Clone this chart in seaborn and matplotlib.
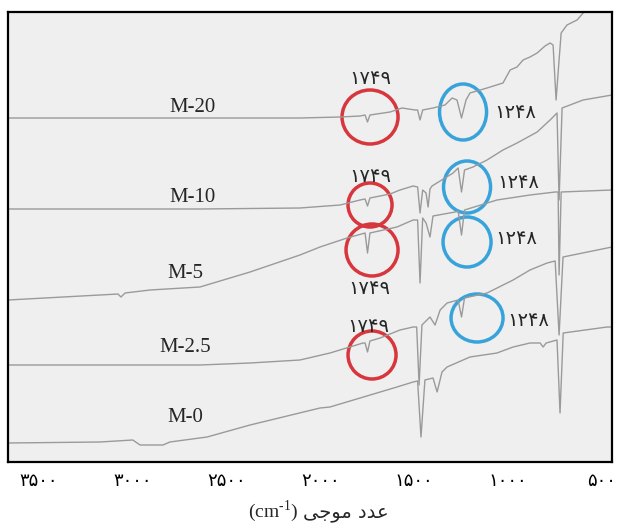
import numpy as np
import pandas as pd
import seaborn as sns
import matplotlib.pyplot as plt
from matplotlib.patches import Ellipse

sns.set_style("white")
plt.rcParams['font.family'] = ['DejaVu Sans']
plt.rcParams['mathtext.fontset'] = 'custom'
plt.rcParams['mathtext.rm'] = 'Liberation Serif'

# FTIR spectra (wavenumber in cm-1, signal in arbitrary units)
samples = ['M-20', 'M-10', 'M-5', 'M-2.5', 'M-0']

wn_m20 = [3665, 2109, 1895, 1789, 1762, 1749, 1736, 1629, 1565, 1496, 1482, 1469, 1455,
          1400, 1336, 1298, 1272, 1248, 1224, 1203, 1112, 1027, 989, 952, 920, 883, 845,
          803, 776, 760, 744, 728, 717, 686, 632, 600, 563, 510]
sig_m20 = [343, 343, 344, 345, 346, 339, 346, 349, 353, 351, 351, 341, 351,
           353, 356, 363, 361, 343, 361, 368, 373, 378, 391, 394, 401, 404, 408,
           415, 418, 416, 361, 401, 428, 436, 441, 448, 456, 466]

wn_m10 = [3665, 2642, 2109, 1895, 1789, 1762, 1749, 1736, 1629, 1576, 1506, 1482, 1469,
          1455, 1437, 1426, 1416, 1405, 1293, 1266, 1248, 1232, 1187, 1112, 1027, 952,
          845, 776, 739, 728, 712, 600, 446]
sig_m10 = [252, 252, 253, 256, 261, 262, 255, 263, 267, 271, 275, 274, 248,
           271, 268, 254, 272, 275, 288, 293, 269, 291, 294, 301, 311, 318,
           329, 341, 348, 261, 353, 361, 366]

wn_m5 = [3665, 3175, 3079, 3063, 3041, 2908, 2642, 2375, 2109, 2002, 1858, 1762, 1749,
         1736, 1592, 1506, 1482, 1469, 1455, 1437, 1416, 1400, 1282, 1266, 1248, 1232,
         1059, 883, 749, 733, 728, 717, 446]
sig_m5 = [161, 166, 167, 164, 168, 171, 174, 189, 206, 214, 223, 228, 208,
          228, 234, 241, 241, 178, 243, 238, 224, 245, 249, 250, 226, 251,
          261, 266, 269, 269, 186, 269, 271]

wn_m25 = [3665, 2642, 2375, 2109, 1949, 1773, 1762, 1749, 1736, 1682, 1576, 1506, 1487,
          1474, 1459, 1416, 1389, 1362, 1325, 1266, 1248, 1232, 1112, 973, 883, 792,
          749, 728, 707, 472, 446]
sig_m25 = [96, 96, 98, 101, 108, 118, 118, 109, 120, 123, 131, 134, 134,
           76, 136, 144, 136, 151, 158, 161, 144, 163, 168, 181, 191, 198,
           200, 126, 204, 213, 214]

wn_m0 = [3665, 3175, 3000, 2961, 2839, 2802, 2604, 2375, 2002, 1949, 1592, 1506, 1482,
         1464, 1443, 1400, 1378, 1352, 1325, 1203, 1059, 973, 883, 829, 813, 797,
         739, 723, 706, 472, 446]
sig_m0 = [18, 19, 21, 16, 16, 19, 24, 36, 53, 54, 74, 79, 80,
          24, 81, 83, 69, 89, 94, 104, 108, 114, 118, 118, 114, 118,
          121, 48, 128, 134, 134]

peak_red = '۱۷۴۹'
peak_blue = '۱۲۴۸'
tick_values = [3500, 3000, 2500, 2000, 1500, 1000, 500]
tick_labels = ['۳۵۰۰', '۳۰۰۰', '۲۵۰۰', '۲۰۰۰', '۱۵۰۰', '۱۰۰۰', '۵۰۰']

spectra = {
    'M-20': (wn_m20, sig_m20),
    'M-10': (wn_m10, sig_m10),
    'M-5': (wn_m5, sig_m5),
    'M-2.5': (wn_m25, sig_m25),
    'M-0': (wn_m0, sig_m0),
}
df = pd.concat([pd.DataFrame({'sample': s, 'wavenumber': w, 'signal': v})
                for s, (w, v) in spectra.items()], ignore_index=True)


# layout helper: picture pixel -> data coords (for labels and rings only)
def at(px, py):
    return 1000 + (508 - px) * 5.33, 461 - py


fig = plt.figure(figsize=(6.24, 5.25), dpi=100)
ax = fig.add_axes([8 / 624, 63 / 525, 604 / 624, 450 / 525])
ax.set_facecolor('#efefef')

sns.lineplot(data=df, x='wavenumber', y='signal', units='sample', estimator=None,
             sort=False, color='#9a9a9a', lw=1.0, ax=ax, legend=False)

ax.set_xlim(3665, 446)
ax.set_ylim(-1, 449)
ax.set_xticks(tick_values)
ax.set_xticklabels(tick_labels, fontsize=13)
ax.tick_params(axis='x', direction='in', length=5, width=1, pad=7, colors='black')
ax.xaxis.get_major_ticks()[-1].tick1line.set_visible(False)
ax.set_yticks([])
ax.set_xlabel('')
ax.set_ylabel('')
for sp in ax.spines.values():
    sp.set_color('black')
    sp.set_linewidth(1.6)

# sample names
name_pos = [(192, 108), (192, 197), (185, 273), (185, 348), (185, 417)]
for name, (px, py) in zip(samples, name_pos):
    x, y = at(px, py)
    ax.text(x, y, name, ha='center', va='center', fontsize=15, family='Liberation Serif')

# rings around the 1749 and 1248 bands
red_rings = [((370, 117), 28, 27), ((370, 205), 22, 22), ((372, 250), 26, 26), ((372, 355), 24, 24)]
blue_rings = [((463, 112), 23.5, 28), ((467, 187), 23.5, 26), ((467, 242), 24, 25), ((477, 318), 26, 24)]
for rings, col in [(red_rings, '#d7363d'), (blue_rings, '#38a3db')]:
    for (px, py), rx, ry in rings:
        x, y = at(px, py)
        ax.add_patch(Ellipse((x, y), 2 * rx * 5.33, 2 * ry, fill=False, edgecolor=col, lw=2.5))

red_lab = [(370, 78), (370, 177), (369, 288), (368, 327)]
blue_lab = [(515, 112), (518, 183), (516, 238), (528, 320)]
for px, py in red_lab:
    x, y = at(px, py)
    ax.text(x, y, peak_red, ha='center', va='center', fontsize=14)
for px, py in blue_lab:
    x, y = at(px, py)
    ax.text(x, y, peak_blue, ha='center', va='center', fontsize=14)

# axis title: "(cm-1)" + Persian words in presentation forms, visual order
fig.text(298 / 624, (525 - 511) / 525, '(cm$^{\\text{-1}}$)', ha='right', va='center',
         fontsize=14, family='Liberation Serif')
fig.text(303 / 624, (525 - 513) / 525, '\uFEF0\uFE9F\uFEEE\uFEE3 \uFEA9\uFEAA\uFECB',
         ha='left', va='center', fontsize=14, family='DejaVu Sans')

fig.savefig('out.png', dpi=100)
